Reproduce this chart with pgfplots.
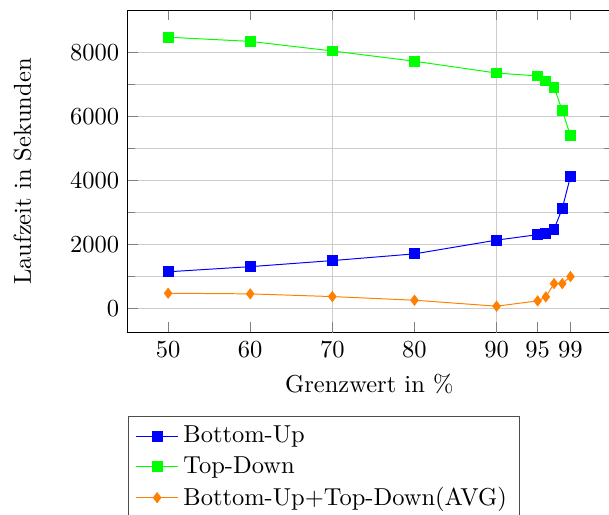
\documentclass[border=0pt]{standalone}
\usepackage{pgfplots}
\pgfplotsset{compat=1.18}
\definecolor{myorange}{RGB}{255,128,0}
\begin{document}
\begin{tikzpicture}
\path[use as bounding box] (-52.2pt,-74.3pt) rectangle (196.4pt,135.9pt);
\begin{axis}[
  scale only axis,
  width=197.1pt, height=131.8pt,
  xmin=45.1, xmax=103.9,
  ymin=-760, ymax=9330,
  xtick={50,60,70,80,90,95,99},
  extra x ticks={70,90},
  extra x tick labels={},
  extra x tick style={grid=major},
  ytick={0,2000,4000,6000,8000},
  minor ytick={1000,3000,5000,7000},
  ymajorgrids, yminorgrids,
  minor grid style={gray!40},
  major grid style={gray!40},
  scaled y ticks=false,
  yticklabel style={/pgf/number format/set thousands separator={}},
  xlabel={Grenzwert in \%},
  ylabel={Laufzeit in Sekunden},
  ylabel shift=9pt,
  legend cell align=left,
  legend style={at={(0,0)}, anchor=north west, yshift=-33.9pt, draw=black!70},
]
\addplot[blue, mark=square*, mark options={solid}] coordinates {
(50,1150) (60,1310) (70,1500) (80,1710) (90,2140) (95,2310) (96,2350) (97,2480) (98,3130) (99,4130)};
\addlegendentry{Bottom-Up}
\addplot[green, mark=square*] coordinates {
(50,8480) (60,8350) (70,8050) (80,7730) (90,7360) (95,7270) (96,7110) (97,6920) (98,6190) (99,5400)};
\addlegendentry{Top-Down}
\addplot[myorange, mark=diamond*] coordinates {
(50,480) (60,460) (70,375) (80,262) (90,75) (95,241) (96,366) (97,781) (98,781) (99,1000)};
\addlegendentry{Bottom-Up+Top-Down(AVG)}
\end{axis}
\end{tikzpicture}
\end{document}
